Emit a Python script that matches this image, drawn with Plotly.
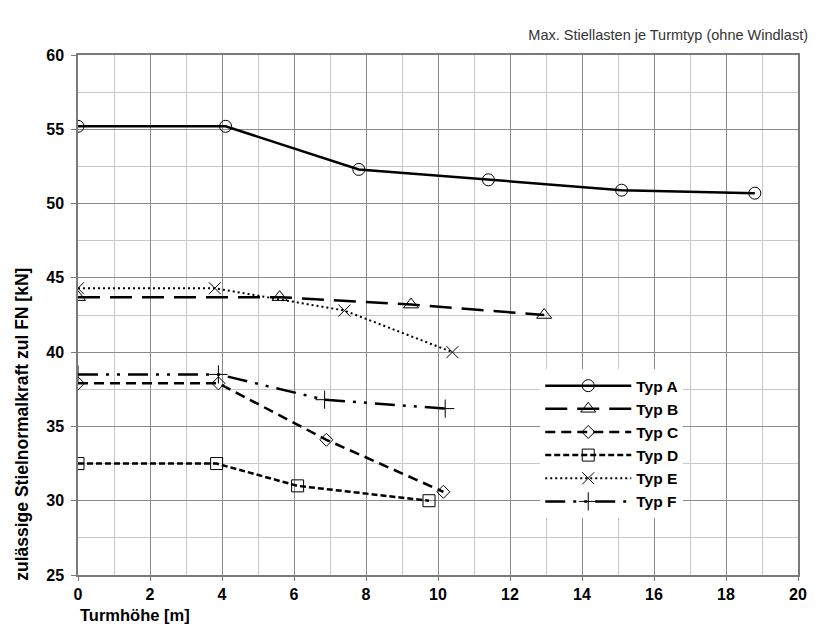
import plotly.graph_objects as go

names = ["Typ A", "Typ B", "Typ C", "Typ D", "Typ E", "Typ F"]

x_a = [0, 4.1, 7.8, 11.4, 15.1, 18.8]
y_a = [55.2, 55.2, 52.3, 51.6, 50.9, 50.7]

x_b = [0, 5.6, 9.25, 12.95]
y_b = [43.7, 43.7, 43.2, 42.5]

x_c = [0, 3.9, 6.9, 10.15]
y_c = [37.9, 37.9, 34.1, 30.6]

x_d = [0, 3.85, 6.1, 9.75]
y_d = [32.5, 32.5, 31.0, 30.0]

x_e = [0, 3.8, 7.4, 10.4]
y_e = [44.3, 44.3, 42.8, 40.0]

x_f = [0, 3.9, 6.85, 10.2]
y_f = [38.5, 38.5, 36.8, 36.2]

x_ticks = [0, 2, 4, 6, 8, 10, 12, 14, 16, 18, 20]
y_ticks = [25, 30, 35, 40, 45, 50, 55, 60]

title_text = "Max. Stiellasten je Turmtyp (ohne Windlast)"
x_title = "Turmhöhe [m]"
y_title = "zulässige Stielnormalkraft zul FN [kN]"

FONT = "Liberation Sans, Arial, sans-serif"

styles = [
    (x_a, y_a, "solid", 2.5, "circle-open", 12),
    (x_b, y_b, "22px,10px", 2.5, "triangle-up-open", 13),
    (x_c, y_c, "10px,6px", 2.5, "diamond-open", 10),
    (x_d, y_d, "6px,3px", 2.5, "square-open", 12),
    (x_e, y_e, "2px,3px", 2, "x-thin-open", 12),
    (x_f, y_f, "20px,8px,3px,8px,3px,8px", 2.5, "cross-thin-open", 13),
]

fig = go.Figure()
for name, (xs, ys, dash, w, sym, sz) in zip(names, styles):
    fig.add_trace(go.Scatter(
        x=xs, y=ys, name=name, mode="lines+markers",
        line=dict(color="black", width=w, dash=dash),
        marker=dict(symbol=sym, size=sz, color="black",
                    line=dict(color="black", width=1)),
    ))

fig.update_layout(
    width=815, height=621,
    margin=dict(l=70, r=25, t=47, b=54),
    paper_bgcolor="white", plot_bgcolor="white",
    font=dict(family=FONT, color="black"),
    title=dict(text=title_text, x=800 / 815, xanchor="right", xref="container",
               y=1 - 27 / 621, yanchor="middle",
               font=dict(family=FONT, size=14.5, color="#333333")),
    showlegend=True,
    legend=dict(x=0.642, xanchor="left", y=0.396, yanchor="top",
                bgcolor="white", borderwidth=0, itemwidth=86,
                tracegroupgap=0,
                font=dict(family=FONT, size=15.5, color="black",
                          weight="bold")),
)

fig.update_xaxes(
    range=[0, 20], tickvals=x_ticks, ticktext=[str(v) for v in x_ticks],
    showgrid=True, gridcolor="#8a8a8a", gridwidth=1,
    minor=dict(dtick=1, showgrid=True, gridcolor="#c8c8c8", gridwidth=1),
    showline=True, linecolor="#7a7a7a", linewidth=1.5, mirror=True,
    ticks="outside", ticklen=4, tickcolor="#7a7a7a",
    tickfont=dict(family=FONT, size=16, weight="bold"),
    zeroline=False,
)
fig.update_yaxes(
    range=[25, 60], tickvals=y_ticks, ticktext=[str(v) for v in y_ticks],
    showgrid=True, gridcolor="#8a8a8a", gridwidth=1,
    minor=dict(dtick=2.5, tick0=25, showgrid=True, gridcolor="#c8c8c8", gridwidth=1),
    showline=True, linecolor="#7a7a7a", linewidth=1.5, mirror=True,
    ticks="outside", ticklen=5, tickcolor="#7a7a7a", ticklabelstandoff=4,
    tickfont=dict(family=FONT, size=16, weight="bold"),
    zeroline=False,
)

fig.add_annotation(text=x_title, xref="paper", yref="paper",
                   x=0.0, xanchor="left", y=-0.056, yanchor="top",
                   showarrow=False,
                   font=dict(family=FONT, size=16.5, weight="bold"))
fig.add_annotation(text=y_title, xref="paper", yref="paper",
                   x=-0.077, xanchor="center", y=0.29, yanchor="middle",
                   textangle=-90, showarrow=False,
                   font=dict(family=FONT, size=17.5, weight="bold"))

fig.write_html("out.html")
